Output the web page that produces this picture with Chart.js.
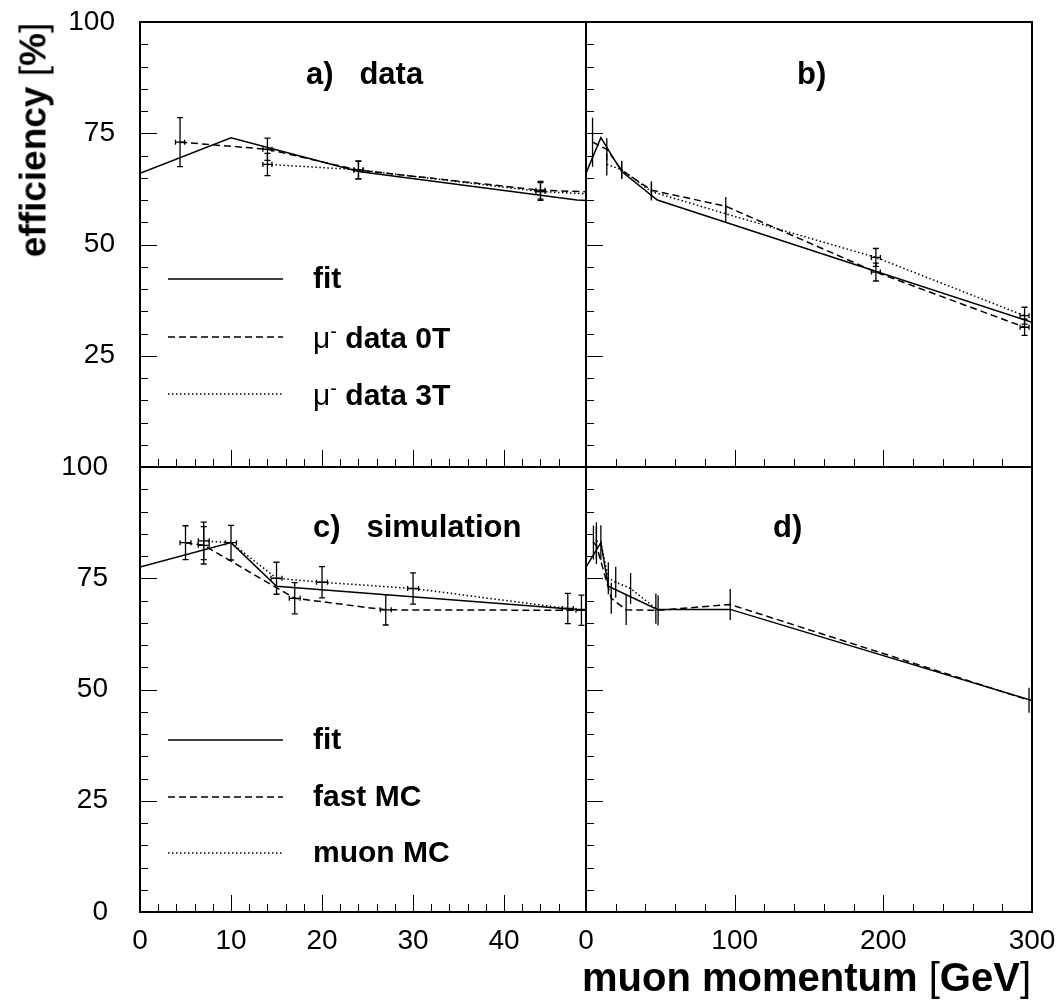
<!DOCTYPE html>
<html>
<head>
<meta charset="utf-8">
<script src="https://cdn.jsdelivr.net/npm/chart.js@4.4.1/dist/chart.umd.min.js"></script>
<style>
  body { margin: 0; background: #fff; width: 1064px; height: 1007px; position: relative; overflow: hidden;
         font-family: 'Liberation Sans', Arial, sans-serif; color: #000; }
  canvas { position: absolute; left: 0; top: 0; }
  .t { position: absolute; font-weight: bold; white-space: pre; line-height: 1; }
  .r { font-weight: normal; }
</style>
</head>
<body>
<canvas id="pa" width="1064" height="1007"></canvas>
<canvas id="pb" width="1064" height="1007"></canvas>
<canvas id="pc" width="1064" height="1007"></canvas>
<canvas id="pd" width="1064" height="1007"></canvas>

<div class="t" style="left:33px;top:140px;font-size:37px;transform:translate(-50%,-50%) rotate(-90deg);">efficiency <span class="r">[</span>%<span class="r">]</span></div>
<div class="t" style="right:33px;top:957px;font-size:40px;">muon momentum <span class="r">[</span>GeV<span class="r">]</span></div>

<div class="t" style="left:306px;top:58px;font-size:31px;">a)   data</div>
<div class="t" style="left:797px;top:58px;font-size:31px;">b)</div>
<div class="t" style="left:313px;top:511px;font-size:31px;">c)   simulation</div>
<div class="t" style="left:773px;top:511px;font-size:31px;">d)</div>

<div class="t" style="left:313px;top:263px;font-size:30px;">fit</div>
<div class="t" style="left:313px;top:321px;font-size:30px;"><span class="r">&mu;<sup style="font-size:20px;vertical-align:10px;">-</sup></span> data 0T</div>
<div class="t" style="left:313px;top:378px;font-size:30px;"><span class="r">&mu;<sup style="font-size:20px;vertical-align:10px;">-</sup></span> data 3T</div>
<div class="t" style="left:313px;top:724px;font-size:30px;">fit</div>
<div class="t" style="left:313px;top:781px;font-size:30px;">fast MC</div>
<div class="t" style="left:313px;top:837px;font-size:30px;">muon MC</div>

<script>
// Panels a) and b): measured efficiency, momentum in GeV, efficiency in %
const fitDataX = [0, 10, 24, 48, 300];
const fitDataY = [66, 74, 66.4, 60, 32.5];

const mu0TX    = [4.4, 14, 24, 44, 94, 195, 295];
const mu0TY    = [73, 71.4, 66.7, 62.2, 58.6, 43.8, 31.4];
const mu0TErr  = [5.5, 2.5, 2, 2, 2.1, 2, 1.8];
const mu0TXErr = [0.5, 0.5, 0.5, 0.5, 0.5, 3, 3];

const mu3TX    = [14, 24, 44, 94, 195, 295];
const mu3TY    = [68, 66.8, 61.9, 56.9, 47.1, 34.0];
const mu3TErr  = [2.5, 2, 2, 2, 2, 1.9];
const mu3TXErr = [0.5, 0.5, 0.5, 0.5, 3, 3];

// Panels c) and d): simulation
const fitSimX = [0, 10, 15, 48, 97, 300];
const fitSimY = [77.5, 83, 73.2, 68, 68, 47.5];

const fastX    = [5, 7, 17, 27, 48.5, 97, 298];
const fastY    = [83, 82.4, 70.5, 67.9, 67.8, 69.1, 47.6];
const fastErr  = [3.8, 4.2, 3.5, 3.4, 3.4, 3.5, 2.8];
const fastXErr = [0.6, 0.6, 0.6, 0.6, 0.6, 0, 0];

const muonX    = [7, 10, 15, 20, 30, 47];
const muonY    = [83.4, 83, 75, 74.1, 72.7, 68.2];
const muonErr  = [4.2, 3.9, 3.6, 3.5, 3.5, 3.4];
const muonXErr = [0.6, 0.6, 0.6, 0.6, 0.6, 0.6];

const DASH = [7, 4];
const DOT = [1.5, 2.5];

// Draws error bars, inward tick marks, the frame and legend line samples.
function decorPlugin(p) {
  return {
    id: 'decor',
    afterDatasetsDraw(chart) {
      const ctx = chart.ctx, a = chart.chartArea;
      const x = chart.scales.x, y = chart.scales.y;
      ctx.save();
      ctx.beginPath();
      ctx.rect(a.left, a.top, a.right - a.left, a.bottom - a.top);
      ctx.clip();
      ctx.strokeStyle = '#000';
      ctx.lineWidth = 1.3;
      ctx.setLineDash([]);
      chart.data.datasets.forEach(ds => {
        if (!ds.errY) return;
        ds.data.forEach((pt, i) => {
          const px = x.getPixelForValue(pt.x), py = y.getPixelForValue(pt.y);
          const y1 = y.getPixelForValue(pt.y + ds.errY[i]);
          const y2 = y.getPixelForValue(pt.y - ds.errY[i]);
          const x1 = x.getPixelForValue(pt.x - ds.errX[i]);
          const x2 = x.getPixelForValue(pt.x + ds.errX[i]);
          ctx.beginPath();
          ctx.moveTo(px, y1); ctx.lineTo(px, y2);
          ctx.moveTo(x1, py); ctx.lineTo(x2, py);
          if ((x2 - x1) / 2 >= 2) {
            ctx.moveTo(px - 3, y1); ctx.lineTo(px + 3, y1);
            ctx.moveTo(px - 3, y2); ctx.lineTo(px + 3, y2);
            ctx.moveTo(x1, py - 2.5); ctx.lineTo(x1, py + 2.5);
            ctx.moveTo(x2, py - 2.5); ctx.lineTo(x2, py + 2.5);
          }
          ctx.stroke();
        });
      });
      ctx.restore();
    },
    afterDraw(chart) {
      const ctx = chart.ctx, a = chart.chartArea;
      const x = chart.scales.x, y = chart.scales.y;
      ctx.save();
      ctx.strokeStyle = '#000';
      ctx.lineWidth = 1;
      ctx.beginPath();
      x.ticks.forEach(t => {
        const q = t.value / p.xMinor;
        if (Math.abs(q - Math.round(q)) > 1e-6) return;
        const big = Math.abs(t.value % p.xMajor) < 1e-6;
        const px = Math.round(x.getPixelForValue(t.value)) + 0.5;
        ctx.moveTo(px, a.bottom); ctx.lineTo(px, a.bottom - (big ? 17 : 8));
      });
      y.ticks.forEach(t => {
        const big = Math.abs(t.value % 25) < 1e-6;
        const py = Math.round(y.getPixelForValue(t.value)) + 0.5;
        ctx.moveTo(a.left, py); ctx.lineTo(a.left + (big ? 17 : 8), py);
      });
      ctx.stroke();

      ctx.lineWidth = 2;
      ctx.strokeRect(a.left, a.top, a.right - a.left, a.bottom - a.top);

      // legend line samples
      (p.legend || []).forEach(l => {
        ctx.beginPath();
        ctx.lineWidth = 1.5;
        ctx.setLineDash(l.dash);
        ctx.moveTo(168, l.y); ctx.lineTo(283, l.y);
        ctx.stroke();
      });
      ctx.restore();
    }
  };
}

// no extra room for labels that stick out past the plot area
function noOverflow(s) {
  s.paddingTop = 0; s.paddingBottom = 0; s.paddingLeft = 0; s.paddingRight = 0;
}

function makePanel(id, p) {
  const tickFont = { family: 'Liberation Sans', size: 28 };
  new Chart(document.getElementById(id), {
    type: 'line',
    data: {
      datasets: p.series.map(s => ({
        data: s.xs.map((v, i) => ({ x: v, y: s.ys[i] })),
        borderColor: '#000',
        borderWidth: 1.5,
        borderDash: s.dash,
        pointRadius: 0,
        tension: 0,
        fill: false,
        errY: s.err,
        errX: s.xerr
      }))
    },
    options: {
      responsive: false,
      animation: false,
      devicePixelRatio: 1,
      layout: { padding: { left: 0, top: p.top, right: 1064 - p.right, bottom: 0 } },
      plugins: { legend: { display: false }, tooltip: { enabled: false } },
      scales: {
        x: {
          type: 'linear', min: 0, max: p.xMax,
          afterFit: s => { s.height = 1007 - p.bottom; noOverflow(s); },
          grid: { display: false, drawTicks: false },
          border: { display: false },
          ticks: {
            display: p.xLabels, stepSize: p.xMinor, autoSkip: false, maxRotation: 0, minRotation: 0,
            padding: 12, color: '#000', font: tickFont,
            callback: v => (v % p.xMajor === 0 ? String(v) : '')
          }
        },
        y: {
          type: 'linear', min: 0, max: 100,
          afterFit: s => { s.width = p.left; noOverflow(s); },
          grid: { display: false, drawTicks: false },
          border: { display: false },
          ticks: {
            display: p.yLabels, stepSize: 5, autoSkip: false, padding: p.yPad, color: '#000', font: tickFont,
            callback: v => (v % 25 === 0 && !(p.noZero && v === 0) ? String(v) : '')
          }
        }
      }
    },
    plugins: [decorPlugin(p)]
  });
}

const dataSeries = [
  { xs: fitDataX, ys: fitDataY, dash: [] },
  { xs: mu0TX, ys: mu0TY, err: mu0TErr, xerr: mu0TXErr, dash: DASH },
  { xs: mu3TX, ys: mu3TY, err: mu3TErr, xerr: mu3TXErr, dash: DOT }
];
const simSeries = [
  { xs: fitSimX, ys: fitSimY, dash: [] },
  { xs: fastX, ys: fastY, err: fastErr, xerr: fastXErr, dash: DASH },
  { xs: muonX, ys: muonY, err: muonErr, xerr: muonXErr, dash: DOT }
];

makePanel('pa', { left: 140, right: 586, top: 22, bottom: 467, xMax: 49, xMinor: 2, xMajor: 10,
  xLabels: false, yLabels: true, yPad: 25, noZero: true, series: dataSeries,
  legend: [{ y: 279, dash: [] }, { y: 337, dash: DASH }, { y: 394, dash: DOT }] });
makePanel('pb', { left: 586, right: 1032, top: 22, bottom: 467, xMax: 300, xMinor: 20, xMajor: 100,
  xLabels: false, yLabels: false, yPad: 0, series: dataSeries });
makePanel('pc', { left: 140, right: 586, top: 467, bottom: 912, xMax: 49, xMinor: 2, xMajor: 10,
  xLabels: true, yLabels: true, yPad: 32, series: simSeries,
  legend: [{ y: 740, dash: [] }, { y: 797, dash: DASH }, { y: 853, dash: DOT }] });
makePanel('pd', { left: 586, right: 1032, top: 467, bottom: 912, xMax: 300, xMinor: 20, xMajor: 100,
  xLabels: true, yLabels: false, yPad: 0, series: simSeries });
</script>
</body>
</html>
